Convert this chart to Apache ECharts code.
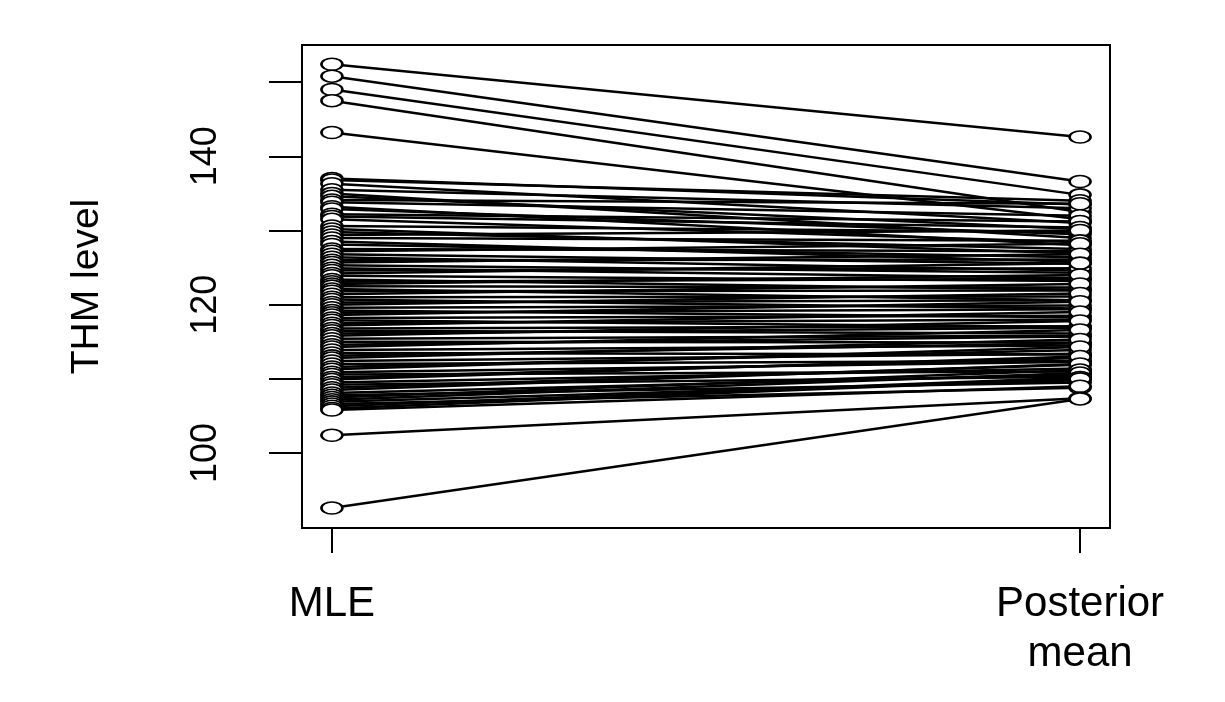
<!DOCTYPE html>
<html>
<head>
<meta charset="utf-8">
<script src="https://cdn.jsdelivr.net/npm/echarts@6/dist/echarts.min.js"></script>
<style>
html,body{margin:0;padding:0;background:#fff;}
#chart{width:1225px;height:702px;}
</style>
</head>
<body>
<div id="chart"></div>
<script>
// Categories (x positions 1 and 2)
const categories = ['MLE', 'Posterior\nmean'];
// MLE estimates (left points)
const mleValues = [
  152.4, 150.8, 149.0, 147.5, 143.2,
  137.0, 136.8, 136.3, 135.5, 135.0, 134.6, 134.1, 133.8, 133.2, 132.9,
  132.2, 131.9, 131.5, 130.6, 130.2, 129.8, 129.4, 129.0, 128.5, 128.1,
  127.5, 127.2, 126.8, 126.4, 126.0, 125.7, 125.3, 124.9, 124.6, 124.2,
  123.9, 123.4, 123.1, 122.8, 122.5, 122.1, 121.8, 121.4, 121.0, 120.7,
  120.3, 120.0, 119.6, 119.2, 118.9, 118.6, 118.2, 117.9, 117.5, 117.2,
  116.8, 116.5, 116.1, 115.8, 115.4, 115.0, 114.6, 114.3, 113.9, 113.5,
  113.1, 112.8, 112.4, 112.0, 111.6, 111.3, 110.9, 110.6, 110.2, 109.9,
  109.5, 109.2, 108.8, 108.5, 108.1, 107.8, 107.5, 107.2, 106.9, 106.6,
  106.3, 106.0, 105.8,
  102.4, 92.6
];
// Posterior means (right points)
const posteriorValues = [
  142.6, 136.6, 134.8, 132.5, 131.5,
  133.5, 134.0, 131.0, 133.0, 129.0, 130.2, 133.6, 132.0, 128.0, 129.5,
  131.2, 130.4, 128.4, 129.8, 126.9, 127.5, 130.0, 128.6, 125.8, 126.4,
  127.2, 128.2, 125.5, 124.6, 126.1, 126.8, 124.3, 123.6, 124.9, 125.6,
  123.2, 122.0, 123.5, 124.0, 122.3, 120.6, 121.9, 122.8, 121.1, 119.5,
  120.6, 121.5, 119.9, 118.3, 119.4, 120.4, 118.5, 117.0, 118.0, 119.0,
  117.1, 116.1, 116.9, 117.8, 115.8, 114.9, 115.7, 116.6, 114.5, 113.3,
  114.8, 115.3, 113.4, 112.4, 113.9, 114.3, 112.3, 111.0, 112.8, 113.0,
  111.4, 110.3, 111.9, 112.0, 110.6, 109.5, 111.2, 110.8, 109.8, 108.8,
  110.2, 110.0, 109.0,
  107.4, 107.3
];
// Axis ticks / labels
const yTicks = [100, 110, 120, 130, 140, 150];
const yLabels = [100, 120, 140];
const xTicks = [1, 2];

const series = mleValues.map((m, i) => ({
  type: 'line',
  data: [[1, m], [2, posteriorValues[i]]],
  symbol: 'emptyCircle',
  symbolSize: [21, 12],
  showSymbol: true,
  lineStyle: { color: '#000', width: 2.5 },
  itemStyle: { color: '#000', borderColor: '#000', borderWidth: 2 },
  silent: true,
  animation: false
}));

const chart = echarts.init(document.getElementById('chart'));
chart.setOption({
  backgroundColor: '#fff',
  animation: false,
  grid: {
    left: 302, right: 115, top: 45, bottom: 174,
    show: true, borderColor: '#000', borderWidth: 2, backgroundColor: 'transparent'
  },
  xAxis: {
    type: 'value',
    min: 0.96, max: 2.04,
    splitLine: { show: false },
    axisLine: { show: false },
    axisTick: { show: true, customValues: xTicks, length: 25, lineStyle: { color: '#000', width: 2 } },
    axisLabel: {
      show: true,
      customValues: xTicks,
      formatter: v => categories[Math.round(v) - 1],
      fontFamily: 'Liberation Sans, Arial, sans-serif',
      fontSize: 42,
      lineHeight: 50,
      color: '#000',
      margin: 51,
      verticalAlign: 'top'
    }
  },
  yAxis: {
    type: 'value',
    min: 89.9, max: 155,
    name: 'THM level',
    nameLocation: 'middle',
    nameGap: 195,
    nameRotate: 90,
    nameTextStyle: { fontFamily: 'Liberation Sans, Arial, sans-serif', fontSize: 39, color: '#000' },
    splitLine: { show: false },
    axisLine: { show: false },
    axisTick: { show: true, customValues: yTicks, length: 33, lineStyle: { color: '#000', width: 2 } },
    axisLabel: {
      show: true,
      customValues: yLabels,
      rotate: 90,
      fontFamily: 'Liberation Sans, Arial, sans-serif',
      fontSize: 36,
      color: '#000',
      margin: 78
    }
  },
  series: series
});
</script>
</body>
</html>
